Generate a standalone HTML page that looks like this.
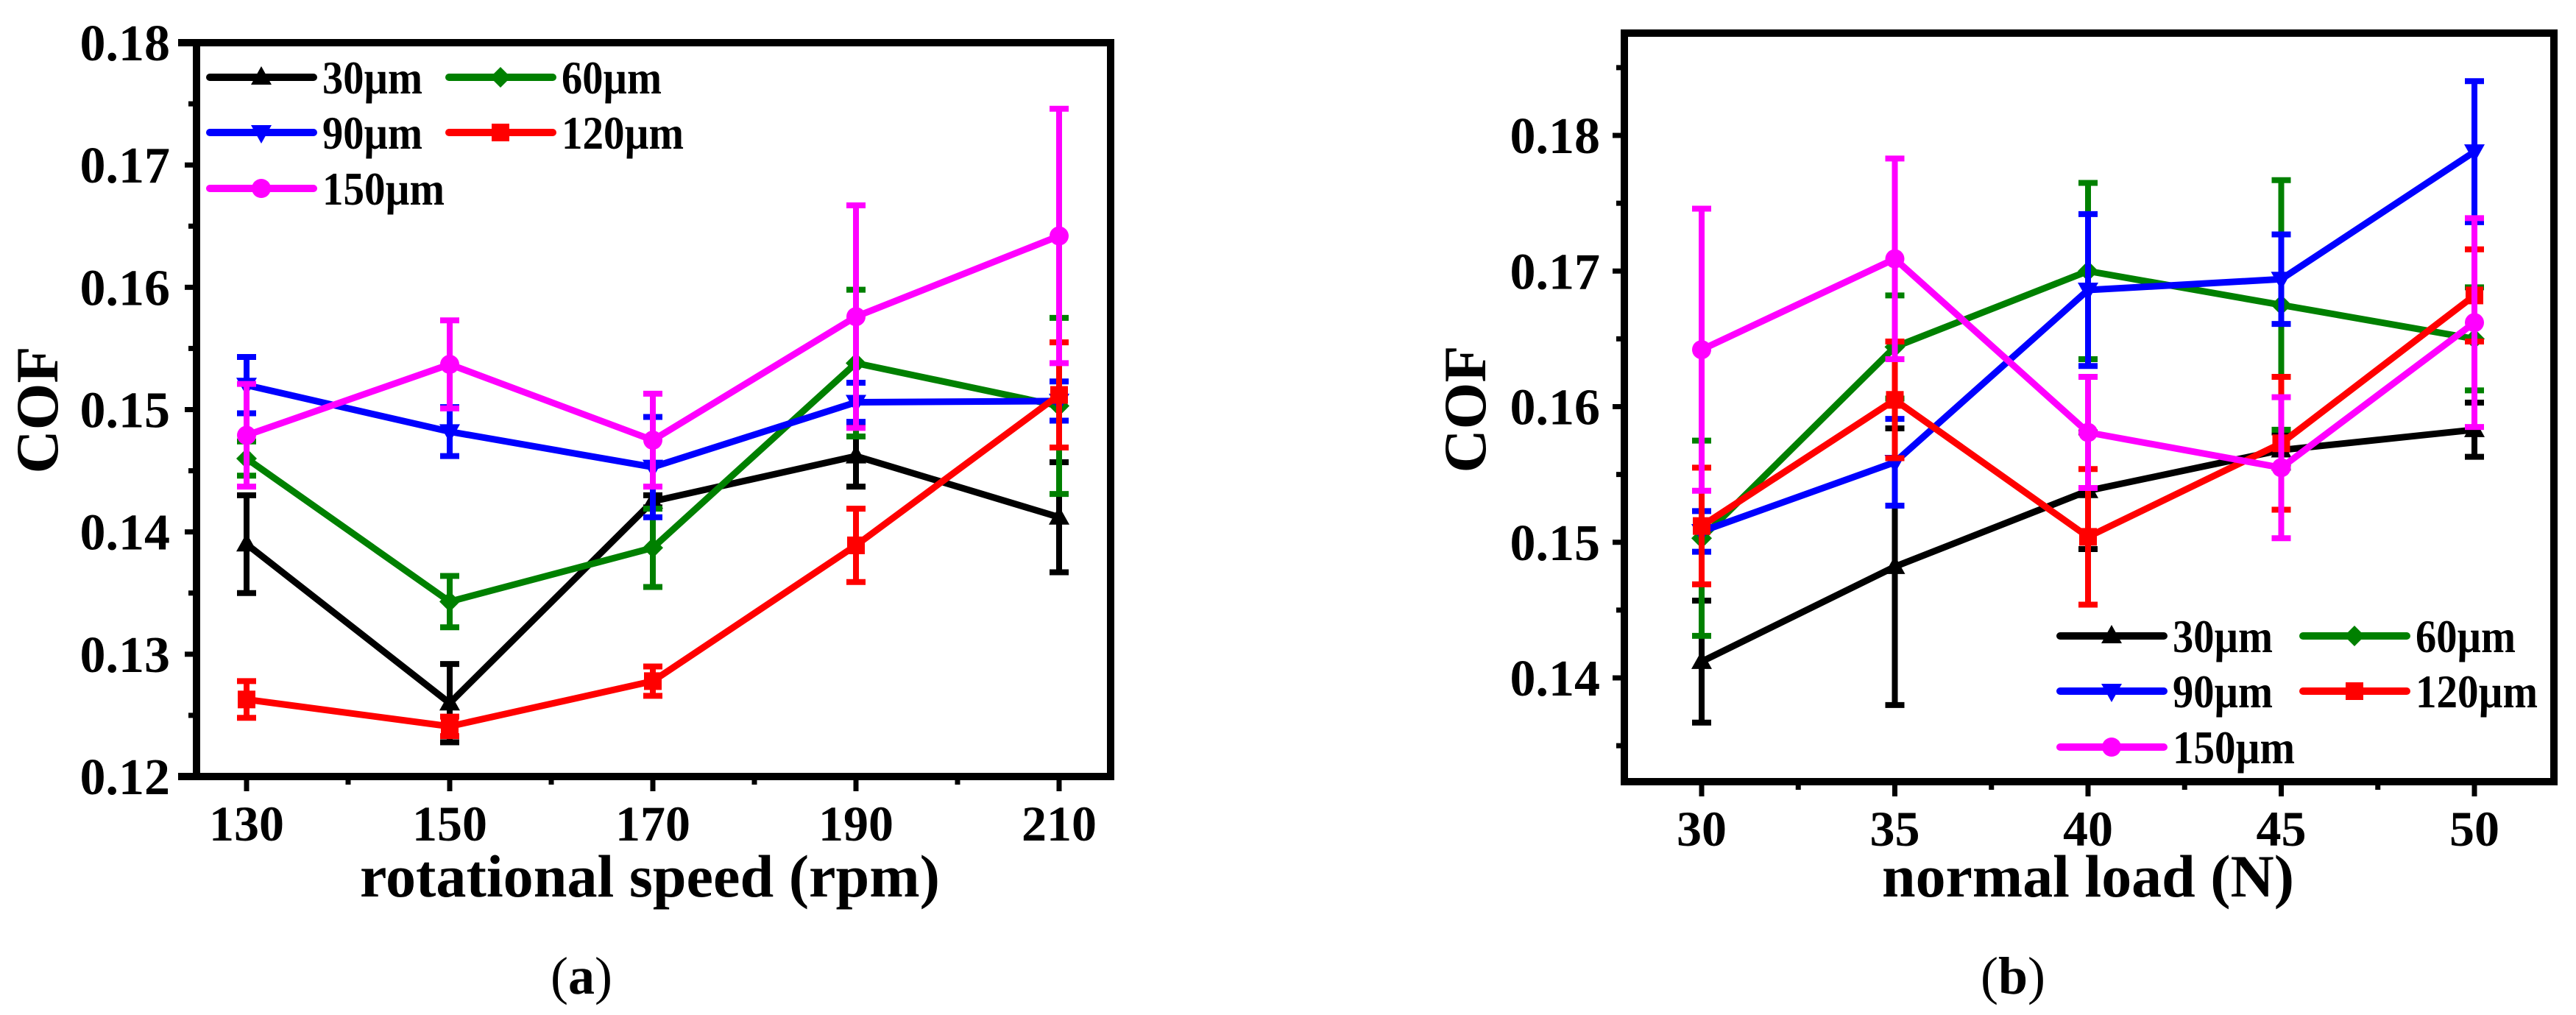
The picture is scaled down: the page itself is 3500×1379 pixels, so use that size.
<!DOCTYPE html>
<html><head><meta charset="utf-8"><style>
html,body{margin:0;padding:0;background:#fff;width:3500px;height:1379px;overflow:hidden}
svg{display:block}
text{font-family:"Liberation Serif",serif;font-weight:bold;fill:#000}
</style></head><body>
<svg id="fig" width="3500" height="1379" viewBox="0 0 3500 1379" xmlns="http://www.w3.org/2000/svg"></svg>
<script>
const seriesNames=["30µm","60µm","90µm","120µm","150µm"];
const seriesColors=["#000000","#008000","#0000ff","#ff0000","#ff00ff"];
const markers=["tri","dia","tridown","sq","circ"];
const speedCats=[130,150,170,190,210];
const loadCats=[30,35,40,45,50];
const aTicks=[0.12,0.13,0.14,0.15,0.16,0.17,0.18];
const bTicks=[0.14,0.15,0.16,0.17,0.18];
const a30=[0.139,0.126,0.1425,0.1462,0.1412], a30e=[0.004,0.0032,0.0005,0.0025,0.0045];
const a60=[0.146,0.1343,0.1387,0.1538,0.1503], a60e=[0.0014,0.0021,0.0032,0.006,0.0072];
const a90=[0.152,0.1482,0.1453,0.1506,0.1507], a90e=[0.0023,0.002,0.0041,0.0016,0.0016];
const a120=[0.1263,0.1241,0.1278,0.1389,0.1512], a120e=[0.0015,0.0008,0.0012,0.003,0.0043];
const a150=[0.1479,0.1537,0.1475,0.1576,0.1642], a150e=[0.0042,0.0036,0.0038,0.0091,0.0104];
const b30=[0.1412,0.1482,0.1538,0.1568,0.1583], b30e=[0.0045,0.0102,0.0043,0.0013,0.002];
const b60=[0.1503,0.1644,0.170,0.1675,0.165], b60e=[0.0072,0.0038,0.0065,0.0092,0.0038];
const b90=[0.1508,0.1559,0.1686,0.1694,0.1788], b90e=[0.0015,0.0032,0.0056,0.0033,0.0052];
const b120=[0.1512,0.1605,0.1504,0.1573,0.1682], b120e=[0.0043,0.0043,0.005,0.0049,0.0034];
const b150=[0.1642,0.1709,0.1581,0.1555,0.1662], b150e=[0.0104,0.0074,0.0041,0.0052,0.0077];

const NS="http://www.w3.org/2000/svg";
const svg=document.getElementById('fig');
function mk(tag,attrs,parent){const e=document.createElementNS(NS,tag);for(const k in attrs)e.setAttribute(k,attrs[k]);(parent||svg).appendChild(e);return e;}
function marker(g,type,x,y,c){
  let e;
  if(type==="tri")e=mk('polygon',{points:`${x},${y-15} ${x-14},${y+10} ${x+14},${y+10}`,fill:c},g);
  else if(type==="tridown")e=mk('polygon',{points:`${x},${y+15} ${x-14},${y-10} ${x+14},${y-10}`,fill:c},g);
  else if(type==="dia")e=mk('polygon',{points:`${x},${y-14} ${x+14},${y} ${x},${y+14} ${x-14},${y}`,fill:c},g);
  else if(type==="sq")e=mk('rect',{x:x-12,y:y-12,width:24,height:24,fill:c},g);
  else e=mk('circle',{cx:x,cy:y,r:13,fill:c},g);
  
  
}
function panel(p){
  const g=mk('g',{});
  
  
  const X=v=>p.x0+(v-p.cats[0])/(p.cats[p.cats.length-1]-p.cats[0])*(p.x1-p.x0);
  const Y=v=>p.yA+(v-p.vA)/(p.vB-p.vA)*(p.yB-p.yA);
  p.series.forEach((s,i)=>{
    const sg=mk('g',{},g);
    
    
    s.v.forEach((v,j)=>{
      const x=X(p.cats[j]),t=Y(v+s.e[j]),b=Y(v-s.e[j]);
      const eb=mk('path',{d:`M${x},${t}V${b}M${x-13},${t}H${x+13}M${x-13},${b}H${x+13}`,stroke:seriesColors[i],'stroke-width':8,fill:'none'},sg);
      
      
    });
    const pts=s.v.map((v,j)=>X(p.cats[j])+','+Y(v)).join(' ');
    const ln=mk('polyline',{points:pts,stroke:seriesColors[i],'stroke-width':9,fill:'none','stroke-linejoin':'round'},sg);
    
    
    s.v.forEach((v,j)=>marker(sg,markers[i],X(p.cats[j]),Y(v),seriesColors[i]));
  });
  const ext=p.ext;
  const fr=mk('path',{d:`M${p.fl-ext},${p.ft}H${p.fr}V${p.fb}H${p.fl-ext}M${p.fl},${p.ft}V${p.fb}`,stroke:'#000','stroke-width':10,fill:'none','stroke-linecap':'square'},g);
  
  
  const yt=p.yticks;
  const step=yt[1]-yt[0];
  for(let v=yt[0]-step;v<=yt[yt.length-1]+step+1e-9;v+=step/2){
    const y=Y(v); if(y<p.ft+3||y>p.fb-3)continue;
    const major=yt.some(t=>Math.abs(t-v)<1e-6);
    mk('line',{x1:p.fl-(major?16:11),x2:p.fl,y1:y,y2:y,stroke:'#000','stroke-width':7},g);
  }
  yt.forEach(v=>{const t=mk('text',{x:p.labR,y:Y(v)+24,'text-anchor':'end','font-size':70},g);t.textContent=v.toFixed(2);
    });
  const cs=p.cats[1]-p.cats[0];
  for(let v=p.cats[0]-cs/2;v<=p.cats[p.cats.length-1]+cs/2;v+=cs/2){
    const x=X(v); if(x<p.fl+3||x>p.fr-3)continue;
    const major=p.cats.some(c=>Math.abs(c-v)<1e-6);
    mk('line',{x1:x,x2:x,y1:p.fb,y2:p.fb+(major?20:11),stroke:'#000','stroke-width':7},g);
  }
  p.cats.forEach(c=>{const t=mk('text',{x:X(c),y:p.fb+87,'text-anchor':'middle','font-size':68},g);t.textContent=c;
    });
  const yl=mk('text',{x:0,y:0,'text-anchor':'middle','font-size':82,transform:`translate(${p.yTitleX},${p.yTitleY}) rotate(-90)`},g);yl.textContent='COF';
  
  const xl=mk('text',{x:p.xTitleX,y:1218,'text-anchor':'middle','font-size':82,textLength:p.xTitleW,lengthAdjust:'spacingAndGlyphs'},g);xl.textContent=p.xTitle;
  
  const cap=mk('text',{x:p.capX,y:1350,'text-anchor':'middle','font-size':72},g);
  
  const t1=mk('tspan',{'font-weight':'normal'},cap);t1.textContent='(';
  const t2=mk('tspan',{},cap);t2.textContent=p.cap;
  const t3=mk('tspan',{'font-weight':'normal'},cap);t3.textContent=')';
  const lg=mk('g',{},g);
  
  seriesNames.forEach((n,i)=>{
    const col=i%2,row=Math.floor(i/2);
    const lx=p.leg.cols[col],ly=p.leg.rows[row];
    const eg=mk('g',{},lg);
    
    mk('line',{x1:lx,x2:lx+141,y1:ly,y2:ly,stroke:seriesColors[i],'stroke-width':10,'stroke-linecap':'round'},eg);
    marker(eg,markers[i],lx+70,ly,seriesColors[i]);
    const t=mk('text',{x:lx+153,y:ly+22,'font-size':64,textLength:n.length===4?136:166,lengthAdjust:'spacingAndGlyphs'},eg);t.textContent=n;
  });
}
panel({name:'panel-a',cats:speedCats,x0:335,x1:1439,vA:0.18,yA:58,vB:0.12,yB:1055,ext:20,
  fl:267,fr:1509,ft:58,fb:1055,yticks:aTicks,labR:231,
  series:[{v:a30,e:a30e},{v:a60,e:a60e},{v:a90,e:a90e},{v:a120,e:a120e},{v:a150,e:a150e}],
  yTitleX:78,yTitleY:557,xTitle:'rotational speed (rpm)',xTitleX:883,xTitleW:788,capX:790,cap:'a',
  leg:{cols:[285,610],rows:[105,180,256]}});
panel({name:'panel-b',cats:loadCats,x0:2312,x1:3362,vA:0.18,yA:184,vB:0.14,yB:921,ext:0,
  fl:2207,fr:3470,ft:45,fb:1062,yticks:bTicks,labR:2174,
  series:[{v:b30,e:b30e},{v:b60,e:b60e},{v:b90,e:b90e},{v:b120,e:b120e},{v:b150,e:b150e}],
  yTitleX:2018,yTitleY:556,xTitle:'normal load (N)',xTitleX:2837,xTitleW:560,capX:2735,cap:'b',
  leg:{cols:[2799,3129],rows:[864,939,1015]}});
</script>
</body></html>
